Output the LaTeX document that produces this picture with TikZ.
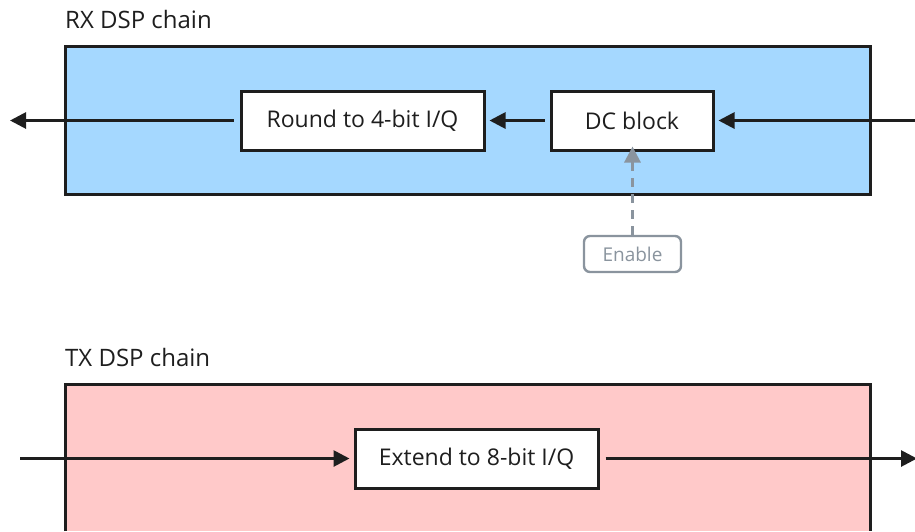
\documentclass[tikz,border=0pt]{standalone}
\usepackage{fontspec}
\setmainfont{Open Sans}
\usetikzlibrary{arrows.meta}
\definecolor{ink}{HTML}{1E1E1E}
\definecolor{rxfill}{HTML}{A5D8FF}
\definecolor{txfill}{HTML}{FFC9C9}
\definecolor{ctl}{HTML}{8A949E}
\tikzset{
  chain/.style={draw=ink, line width=3pt},
  stage/.style={draw=ink, line width=3pt, fill=white, minimum height=59pt,
    inner sep=0pt, font=\fontsize{23}{27}\selectfont, text=ink},
  title/.style={anchor=west, inner sep=0pt, font=\fontsize{24}{28}\selectfont, text=ink},
  flow/.style={draw=ink, line width=2.8pt, -{Triangle[length=16pt,width=16pt]}},
  ctlbox/.style={draw=ctl, line width=2.4pt, rounded corners=6pt, fill=white,
    minimum width=97pt, minimum height=36pt, inner sep=0pt,
    font=\fontsize{19}{22}\selectfont, text=ctl},
  ctlflow/.style={draw=ctl, line width=3pt, dash pattern=on 9pt off 7pt,
    -{Triangle[length=16pt,width=16pt]}}
}
\begin{document}
\begin{tikzpicture}[x=1pt,y=-1pt]
\useasboundingbox (0,0) rectangle (915,531);
% RX chain
\node[title] (rxt) at (65,19) {RX DSP chain};
\draw[chain, fill=rxfill] (65,46) rectangle (870,194);
\node[stage, minimum width=243pt] (round) at (362.5,120.5) {Round to 4-bit I/Q};
\node[stage, minimum width=162pt] (dc) at (632,120.5) {DC block};
\node[ctlbox] (en) at (632.5,254) {Enable};
\coordinate (rxin) at (916,120.5);
\coordinate (rxout) at (10,120.5);
\draw[flow] (rxin) -- ([xshift=4pt]dc.east);
\draw[flow] ([xshift=-5pt]dc.west) -- ([xshift=4pt]round.east);
\draw[flow] ([xshift=-6pt]round.west) -- (rxout);
\draw[ctlflow] (en.north) -- ([yshift=5pt]dc.south -| en.north);
% TX chain
\node[title] (txt) at (65,357) {TX DSP chain};
\draw[chain, fill=txfill] (65,531) -- (65,384) -- (870,384) -- (870,531);
\node[stage, minimum width=243pt] (ext) at (476.5,458.5) {Extend to 8-bit I/Q};
\coordinate (txin) at (20,458.5);
\coordinate (txout) at (917,458.5);
\draw[flow] (txin) -- ([xshift=-4pt]ext.west);
\draw[flow] ([xshift=6pt]ext.east) -- (txout);
\end{tikzpicture}
\end{document}
